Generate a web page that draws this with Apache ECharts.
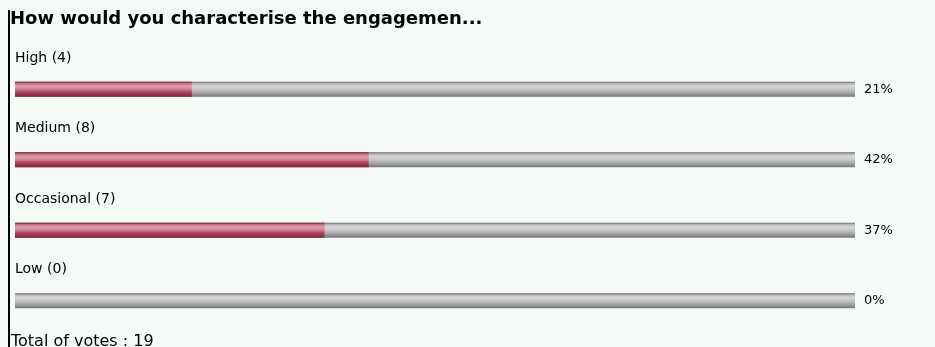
<!DOCTYPE html>
<html>
<head>
<meta charset="utf-8">
<script src="https://cdn.jsdelivr.net/npm/echarts@6/dist/echarts.min.js"></script>
<style>
  html, body { margin: 0; padding: 0; background: #f5faf7; overflow: hidden; }
  #edge { position: absolute; left: 8px; top: 10px; width: 2px; height: 337px; background: #000; }
  #chart { position: absolute; left: 0; top: 0; width: 935px; height: 347px; }
</style>
</head>
<body>
<div id="chart"></div>
<div id="edge"></div>
<script>
// Poll question and answers
const titleText = 'How would you characterise the engagemen...';
const answers = ['High', 'Medium', 'Occasional', 'Low'];
const votes = [4, 8, 7, 0];

const totalVotes = votes.reduce((a, b) => a + b, 0);
const pct = v => Math.round(v / totalVotes * 100) + '%';

const font = 'DejaVu Sans, Verdana, sans-serif';

const redFill = new echarts.graphic.LinearGradient(0, 0, 0, 1, [
  { offset: 0, color: '#6a2034' },
  { offset: 0.12, color: '#c27085' },
  { offset: 0.3, color: '#e0a0ae' },
  { offset: 0.5, color: '#d07e92' },
  { offset: 0.72, color: '#a83c58' },
  { offset: 1, color: '#842640' }
]);
const grayFill = new echarts.graphic.LinearGradient(0, 0, 0, 1, [
  { offset: 0, color: '#666666' },
  { offset: 0.12, color: '#b8b8b8' },
  { offset: 0.3, color: '#d6d6d6' },
  { offset: 0.5, color: '#c6c6c6' },
  { offset: 0.75, color: '#a2a2a2' },
  { offset: 1, color: '#767676' }
]);

const chart = echarts.init(document.getElementById('chart'), null, { renderer: 'canvas' });
chart.setOption({
  backgroundColor: '#f5faf7',
  animation: false,
  title: [
    {
      text: titleText, left: 5, top: 5,
      textStyle: { fontFamily: font, fontSize: 18, fontWeight: 'bold', color: '#000' }
    },
    {
      text: 'Total of votes : ' + totalVotes, left: 6, top: 329,
      textStyle: { fontFamily: font, fontSize: 16, fontWeight: 'normal', color: '#000' }
    }
  ],
  grid: { left: 15, right: 80, top: 54, bottom: 11, containLabel: false },
  xAxis: {
    type: 'value', min: 0, max: totalVotes,
    show: false
  },
  yAxis: {
    type: 'category', inverse: true, data: answers,
    axisLine: { show: false }, axisTick: { show: false }, splitLine: { show: false },
    axisLabel: {
      inside: true, margin: 0, align: 'left', verticalAlign: 'bottom',
      padding: [0, 0, 24, 0],
      fontFamily: font, fontSize: 14, color: '#000',
      formatter: (name, i) => name + ' (' + votes[i] + ')'
    }
  },
  series: [
    {
      type: 'bar', barWidth: 15, barGap: '-100%', silent: true,
      data: votes.map(() => totalVotes),
      itemStyle: { color: grayFill },
      label: {
        show: true, position: 'right', distance: 9,
        fontFamily: font, fontSize: 13, color: '#000',
        formatter: p => pct(votes[p.dataIndex])
      }
    },
    {
      type: 'bar', barWidth: 15, barGap: '-100%', silent: true,
      data: votes,
      itemStyle: { color: redFill }
    }
  ]
});
</script>
</body>
</html>
